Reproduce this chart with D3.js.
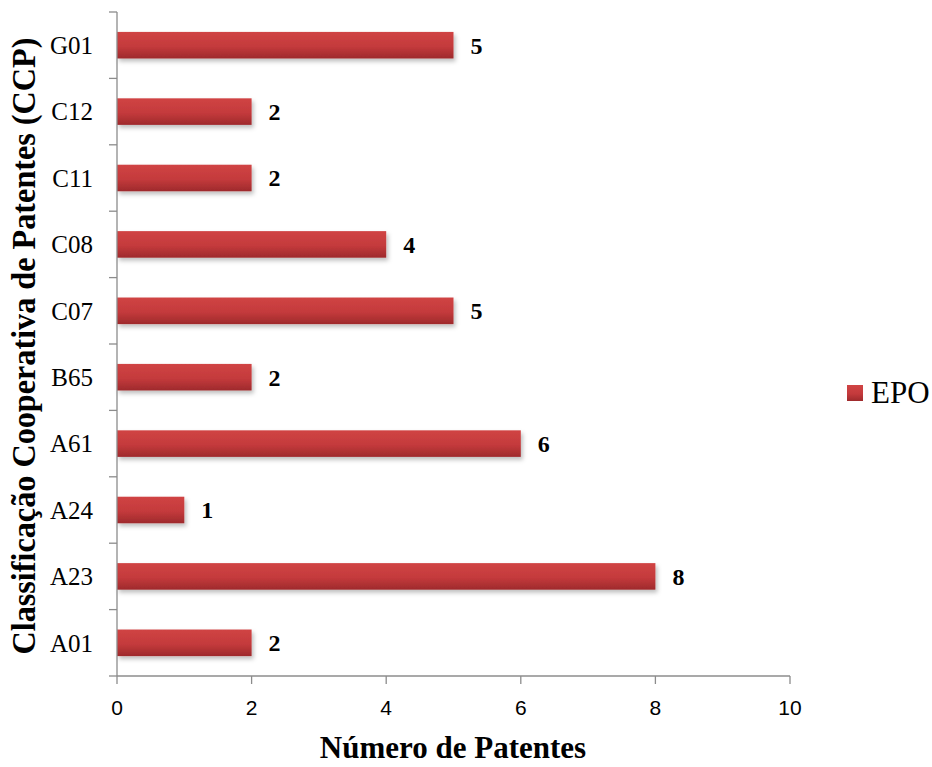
<!DOCTYPE html>
<html><head><meta charset="utf-8">
<script src="https://cdn.jsdelivr.net/npm/d3@7"></script>
<style>body{margin:0;background:#fff}</style>
</head><body><svg id="c" width="932" height="767"></svg>
<script>
const categories = ["G01","C12","C11","C08","C07","B65","A61","A24","A23","A01"];
const values = [5,2,2,4,5,2,6,1,8,2];
const xTicks = [0,2,4,6,8,10];
const seriesName = "EPO";

const svg = d3.select("#c");
const m = {l:117, r:790, t:12, b:676};
const x = d3.scaleLinear().domain([0,10]).range([m.l, m.r]);
const y = d3.scaleBand().domain(categories).range([m.t, m.b]).paddingInner(0.6).paddingOuter(0.3);
const yb = d3.scaleBand().domain(categories).range([m.t, m.b]);

const defs = svg.append("defs");
const g = defs.append("linearGradient").attr("id","bg").attr("x1",0).attr("y1",0).attr("x2",0).attr("y2",1);
g.append("stop").attr("offset","0%").attr("stop-color","#d04444");
g.append("stop").attr("offset","55%").attr("stop-color","#c43a3c");
g.append("stop").attr("offset","100%").attr("stop-color","#9e2a2c");
const f = defs.append("filter").attr("id","sh").attr("x","-5%").attr("y","-30%").attr("width","115%").attr("height","180%");
f.append("feDropShadow").attr("dx",2).attr("dy",3).attr("stdDeviation",2).attr("flood-color","#000").attr("flood-opacity",0.25);

// bars
svg.append("g").selectAll("rect").data(categories).join("rect")
  .attr("x", x(0)).attr("y", d=>y(d))
  .attr("width", (d,i)=>x(values[i])-x(0)).attr("height", y.bandwidth())
  .attr("fill","url(#bg)").attr("filter","url(#sh)");

// value labels
svg.append("g").selectAll("text").data(categories).join("text")
  .attr("x",(d,i)=>x(values[i])+17).attr("y", d=>y(d)+y.bandwidth()/2)
  .attr("dy","0.35em").attr("font-family","'Liberation Serif', serif").attr("font-weight","bold")
  .attr("font-size",24).attr("fill","#000").text((d,i)=>values[i]);

// y axis
const ya = svg.append("g");
ya.append("line").attr("x1",m.l).attr("x2",m.l).attr("y1",m.t).attr("y2",m.b).attr("stroke","#8c8c8c").attr("stroke-width",1.3);
const bounds = categories.map(d=>yb(d)).concat([m.b]);
ya.selectAll("line.t").data(bounds).join("line").attr("class","t")
  .attr("x1",m.l-8).attr("x2",m.l).attr("y1",d=>d).attr("y2",d=>d).attr("stroke","#8c8c8c").attr("stroke-width",1.3);
ya.selectAll("text").data(categories).join("text")
  .attr("x",93).attr("y",d=>yb(d)+yb.bandwidth()/2).attr("dy","0.35em").attr("text-anchor","end")
  .attr("font-family","'Liberation Serif', serif").attr("font-size",25).attr("fill","#000").text(d=>d);

// x axis
const xa = svg.append("g");
xa.append("line").attr("x1",m.l).attr("x2",m.r).attr("y1",m.b).attr("y2",m.b).attr("stroke","#8c8c8c").attr("stroke-width",1.3);
xa.selectAll("line.t").data(xTicks).join("line").attr("class","t")
  .attr("x1",d=>x(d)).attr("x2",d=>x(d)).attr("y1",m.b).attr("y2",m.b+8).attr("stroke","#8c8c8c").attr("stroke-width",1.3);
xa.selectAll("text").data(xTicks).join("text")
  .attr("x",d=>x(d)).attr("y",715).attr("text-anchor","middle")
  .attr("font-family","'Liberation Sans', Arial, sans-serif").attr("font-size",21).attr("fill","#000").text(d=>d);

// axis titles
svg.append("text").attr("x",453).attr("y",758).attr("text-anchor","middle")
  .attr("font-family","'Liberation Serif', serif").attr("font-weight","bold").attr("font-size",31)
  .text("Número de Patentes");
svg.append("text").attr("transform","translate(35,346) rotate(-90)").attr("text-anchor","middle")
  .attr("font-family","'Liberation Serif', serif").attr("font-weight","bold").attr("font-size",33)
  .attr("textLength",617).attr("lengthAdjust","spacingAndGlyphs")
  .text("Classificação Cooperativa de Patentes (CCP)");

// legend
svg.append("rect").attr("x",847).attr("y",385).attr("width",16).attr("height",16).attr("fill","url(#bg)");
svg.append("text").attr("x",871).attr("y",403)
  .attr("font-family","'Liberation Serif', serif").attr("font-size",31).text(seriesName);
</script></body></html>
